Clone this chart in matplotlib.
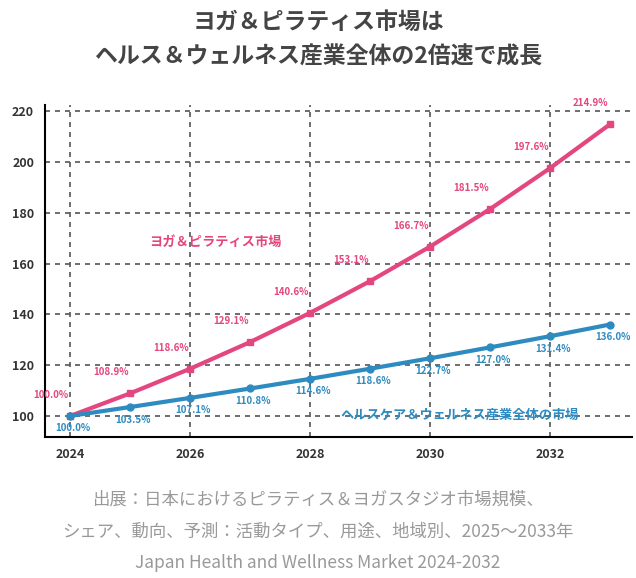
import matplotlib.pyplot as plt

plt.rcParams['font.family'] = ['Noto Sans CJK JP', 'DejaVu Sans']

years = [2024, 2025, 2026, 2027, 2028, 2029, 2030, 2031, 2032, 2033]
yoga = [100.0, 108.9, 118.6, 129.1, 140.6, 153.1, 166.7, 181.5, 197.6, 214.9]
wellness = [100.0, 103.5, 107.1, 110.8, 114.6, 118.6, 122.7, 127.0, 131.4, 136.0]
xticks = [2024, 2026, 2028, 2030, 2032]
yticks = [100, 120, 140, 160, 180, 200, 220]

pink = '#e4467f'
blue = '#2e8bc0'

fig = plt.figure(figsize=(6.36, 5.78), dpi=100)
ax = fig.add_axes([0.071, 0.244, 0.923, 0.574])

ax.plot(years, yoga, color=pink, lw=3, marker='s', ms=5, zorder=3)
ax.plot(years, wellness, color=blue, lw=3, marker='o', ms=5, zorder=3)

for x, v in zip(years, yoga):
    ax.annotate(f'{v:.1f}%', (x, v), xytext=(-14, 15), textcoords='offset points',
                ha='center', va='center', fontsize=7, color=pink, fontweight='bold')
for x, v in zip(years, wellness):
    ax.annotate(f'{v:.1f}%', (x, v), xytext=(2, -9), textcoords='offset points',
                ha='center', va='center', fontsize=7, color=blue, fontweight='bold')

ax.text(2026.42, 168.5, 'ヨガ＆ピラティス市場', color=pink, fontsize=9.5, fontweight='bold', ha='center', va='center')
ax.text(2030.5, 100.6, 'ヘルスケア＆ウェルネス産業全体の市場', color=blue, fontsize=9.5, fontweight='bold', ha='center', va='center')

ax.set_xlim(2023.58, 2033.37)
ax.set_ylim(91.7, 222.4)
ax.set_xticks(xticks)
ax.set_yticks(yticks)
ax.tick_params(length=0, labelsize=9, colors='#333333', pad=8)
for lab in ax.get_xticklabels() + ax.get_yticklabels():
    lab.set_fontweight('bold')
ax.grid(True, ls=(0, (3, 3)), color='#555555', lw=1.2)
for s in ['top', 'right']:
    ax.spines[s].set_visible(False)
ax.spines['left'].set_linewidth(1.5)
ax.spines['bottom'].set_linewidth(1.5)

fig.text(0.5, 0.962, 'ヨガ＆ピラティス市場は', ha='center', va='center', fontsize=16.5, fontweight='bold', color='#444444')
fig.text(0.5, 0.901, 'ヘルス＆ウェルネス産業全体の2倍速で成長', ha='center', va='center', fontsize=16.5, fontweight='bold', color='#444444')

fig.text(0.5, 0.135, '出展：日本におけるピラティス＆ヨガスタジオ市場規模、', ha='center', va='center', fontsize=12.5, color='#999999')
fig.text(0.5, 0.080, 'シェア、動向、予測：活動タイプ、用途、地域別、2025～2033年', ha='center', va='center', fontsize=12.5, color='#999999')
fig.text(0.5, 0.026, 'Japan Health and Wellness Market 2024-2032', ha='center', va='center', fontsize=12.5, color='#999999')

fig.savefig('out.png', dpi=100)
